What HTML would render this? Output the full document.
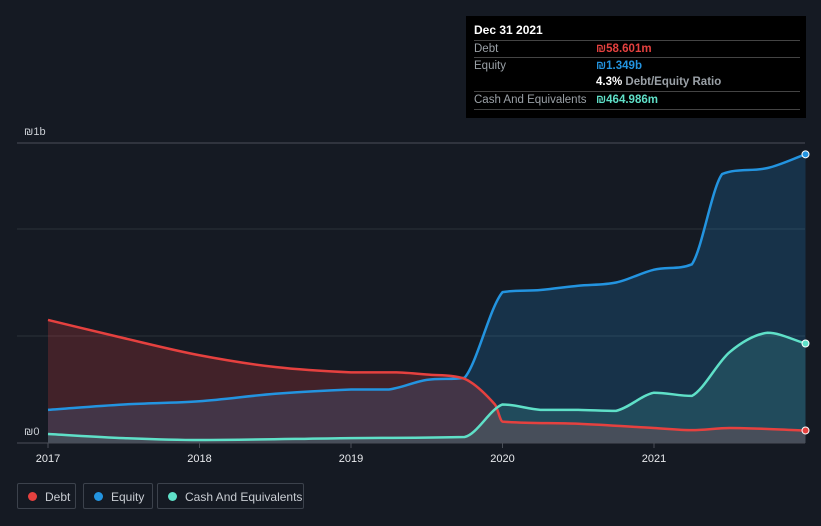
<!DOCTYPE html>
<html><head><meta charset="utf-8"><style>
body{margin:0;width:821px;height:526px;background:#151a23;font-family:"Liberation Sans",sans-serif;overflow:hidden;position:relative}
.tip{position:absolute;left:466px;top:16px;width:340px;height:102px;background:#000;color:#fff;font-size:11.5px}
.row{position:absolute;left:8px;width:326px;border-top:1px solid #444;height:17px;line-height:17px}
.lab{color:#9aa0a6;position:absolute;left:0}
.val{position:absolute;left:122px;font-weight:bold}
.leg{position:absolute;top:483px;height:26px;border:1px solid #3c424c;border-radius:2px;color:#c8ccd2;font-size:12px;line-height:26px;box-sizing:border-box}
.dot{position:absolute;top:8px;left:10px;width:9px;height:9px;border-radius:50%}
</style></head><body>
<svg id="chart" width="821" height="526" style="position:absolute;left:0;top:0"></svg>
<div class="tip">
<div style="position:absolute;left:8px;top:7px;font-weight:bold;font-size:12px">Dec 31 2021</div>
<div class="row" style="top:24px"><span class="lab">Debt</span><span class="val" style="color:#e5413f">₪58.601m</span></div>
<div class="row" style="top:41px"><span class="lab">Equity</span><span class="val" style="color:#2394e0">₪1.349b</span></div>
<div class="row" style="top:58px;border-top:none"><span class="val" style="color:#fff">4.3% <span style="color:#9aa0a6">Debt/Equity Ratio</span></span></div>
<div class="row" style="top:75px;border-bottom:1px solid #444"><span class="lab">Cash And Equivalents</span><span class="val" style="color:#5fe0c8">₪464.986m</span></div>
</div>
<div class="leg" style="left:17px;width:59px"><span class="dot" style="background:#e5413f"></span><span style="position:absolute;left:27px">Debt</span></div>
<div class="leg" style="left:83px;width:70px"><span class="dot" style="background:#2394e0"></span><span style="position:absolute;left:27px">Equity</span></div>
<div class="leg" style="left:157px;width:147px"><span class="dot" style="background:#5fe0c8"></span><span style="position:absolute;left:27px">Cash And Equivalents</span></div>
<script>
const debtX=[2017,2017.5,2018,2018.5,2019,2019.3,2019.5,2019.75,2019.95,2020,2020.5,2021,2021.25,2021.5,2022];
const debtV=[0.575,0.49,0.41,0.355,0.33,0.33,0.32,0.30,0.18,0.10,0.09,0.07,0.06,0.07,0.0586];
const eqX=[2017,2017.5,2018,2018.5,2019,2019.25,2019.5,2019.75,2020,2020.25,2020.5,2020.75,2021,2021.25,2021.45,2021.75,2022];
const eqV=[0.155,0.18,0.195,0.23,0.25,0.25,0.295,0.305,0.705,0.715,0.735,0.75,0.81,0.835,1.257,1.285,1.349];
const cashX=[2017,2017.5,2018,2019,2019.75,2020,2020.25,2020.5,2020.75,2021,2021.25,2021.5,2021.75,2022];
const cashV=[0.042,0.023,0.014,0.023,0.028,0.18,0.155,0.155,0.15,0.235,0.22,0.425,0.515,0.465];
const years=[2017,2018,2019,2020,2021];
const svg=document.getElementById('chart');const NS='http://www.w3.org/2000/svg';
const X=t=>48+(t-2017)*151.5;const Y=v=>443-v*214;
function mk(tag,a){const e=document.createElementNS(NS,tag);for(const k in a)e.setAttribute(k,a[k]);svg.appendChild(e);return e;}
function path(xs,vs){let d='';const p=xs.map((t,i)=>[X(t),Y(vs[i])]);
for(let i=0;i<p.length;i++){if(i==0){d+='M'+p[0];continue;}
const p0=p[Math.max(0,i-2)],p1=p[i-1],p2=p[i],p3=p[Math.min(p.length-1,i+1)];
const dx=(p2[0]-p1[0])/3;
const s1=(p2[1]-p0[1])/(p2[0]-p0[0]||1),s2=(p3[1]-p1[1])/(p3[0]-p1[0]||1);
let m1=s1,m2=s2;const sl=(p2[1]-p1[1])/(p2[0]-p1[0]);
if(Math.sign(s1)!=Math.sign(sl))m1=0;if(Math.sign(s2)!=Math.sign(sl))m2=0;
m1=Math.sign(m1)*Math.min(Math.abs(m1),3*Math.abs(sl));m2=Math.sign(m2)*Math.min(Math.abs(m2),3*Math.abs(sl));
d+=`C${p1[0]+dx},${p1[1]+m1*dx} ${p2[0]-dx},${p2[1]-m2*dx} ${p2[0]},${p2[1]}`;}
return d;}
[143,229,336].forEach((y,i)=>{const l=mk('line',{x1:17,x2:805,y1:y,y2:y,stroke:i==0?'#4a4f58':'#2c313a','stroke-width':1});});
const series=[[eqX,eqV,'#2394e0','rgba(35,148,224,0.2)','equity'],[debtX,debtV,'#e5413f','rgba(229,65,63,0.22)','debt'],[cashX,cashV,'#5fe0c8','rgba(95,224,200,0.15)','cash']];
series.forEach(s=>{const d=path(s[0],s[1]);const a=mk('path',{d:d+`L${X(s[0][s[0].length-1])},443L${X(s[0][0])},443Z`,fill:s[3]});
});
series.forEach(s=>{const l=mk('path',{d:path(s[0],s[1]),fill:'none',stroke:s[2],'stroke-width':2.5});

const c=mk('circle',{cx:X(s[0][s[0].length-1]),cy:Y(s[1][s[1].length-1]),r:3.5,fill:s[2],stroke:'#fff','stroke-width':1});
});
const ax=mk('line',{x1:17,x2:805,y1:443,y2:443,stroke:'#4a4f58'});
years.forEach(y=>{const t=mk('line',{x1:X(y),x2:X(y),y1:443,y2:448,stroke:'#4a4f58'});
const tx=mk('text',{x:X(y),y:462,fill:'#e8eaed','font-size':11,'text-anchor':'middle','font-family':'Liberation Sans'});tx.textContent=y;
});
[['₪1b',135],['₪0',435]].forEach(a=>{const t=mk('text',{x:24,y:a[1],fill:'#c8ccd2','font-size':11,'font-family':'Liberation Sans'});t.textContent=a[0];
});
</script>
</body></html>
